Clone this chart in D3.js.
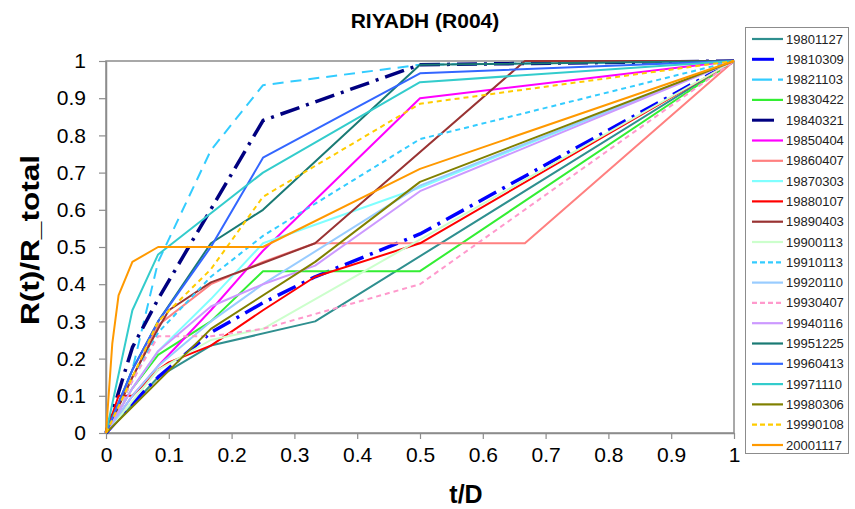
<!DOCTYPE html>
<html><head><meta charset="utf-8">
<script src="https://cdn.jsdelivr.net/npm/d3@7"></script>
<style>body{margin:0;background:#fff}svg{font-family:"Liberation Sans",Arial,sans-serif}</style>
</head><body><svg id="c" width="855" height="509"></svg>
<script>
const title = "RIYADH (R004)";
const xTicks = [0,0.1,0.2,0.3,0.4,0.5,0.6,0.7,0.8,0.9,1];
const yTicks = [0,0.1,0.2,0.3,0.4,0.5,0.6,0.7,0.8,0.9,1];
const seriesNames = ["19801127","19810309","19821103","19830422","19840321","19850404","19860407","19870303","19880107","19890403","19900113","19910113","19920110","19930407","19940116","19951225","19960413","19971110","19980306","19990108","20001117"];

const x_19801127 = [0, 0.083, 0.167, 0.333, 1];
const y_19801127 = [0, 0.15, 0.235, 0.30, 1];
const x_19810309 = [0, 0.042, 0.083, 0.167, 0.25, 0.333, 0.5, 1];
const y_19810309 = [0, 0.08, 0.15, 0.27, 0.35, 0.42, 0.535, 1];
const x_19821103 = [0, 0.042, 0.083, 0.167, 0.25, 0.5, 1];
const y_19821103 = [0, 0.17, 0.46, 0.76, 0.935, 0.99, 1];
const x_19830422 = [0, 0.042, 0.083, 0.167, 0.25, 0.5, 1];
const y_19830422 = [0, 0.12, 0.21, 0.30, 0.435, 0.435, 1];
const x_19840321 = [0, 0.042, 0.083, 0.25, 0.333, 0.5, 1];
const y_19840321 = [0, 0.23, 0.36, 0.84, 0.89, 0.99, 1];
const x_19850404 = [0, 0.042, 0.083, 0.167, 0.25, 0.5, 1];
const y_19850404 = [0, 0.10, 0.18, 0.33, 0.49, 0.90, 1];
const x_19860407 = [0, 0.042, 0.083, 0.167, 0.25, 0.333, 0.667, 1];
const y_19860407 = [0, 0.15, 0.29, 0.40, 0.46, 0.51, 0.51, 1];
const x_19870303 = [0, 0.042, 0.083, 0.167, 0.25, 0.5, 1];
const y_19870303 = [0, 0.12, 0.22, 0.36, 0.51, 0.66, 1];
const x_19880107 = [0, 0.02, 0.042, 0.083, 0.1, 0.167, 0.25, 0.333, 0.5, 1];
const y_19880107 = [0, 0.10, 0.10, 0.17, 0.19, 0.235, 0.33, 0.42, 0.51, 1];
const x_19890403 = [0, 0.042, 0.083, 0.1, 0.167, 0.25, 0.333, 0.667, 1];
const y_19890403 = [0, 0.15, 0.28, 0.33, 0.405, 0.457, 0.51, 1, 1];
const x_19900113 = [0, 0.083, 0.167, 0.25, 1];
const y_19900113 = [0, 0.17, 0.25, 0.28, 1];
const x_19910113 = [0, 0.042, 0.083, 0.167, 0.25, 0.5, 1];
const y_19910113 = [0, 0.14, 0.27, 0.42, 0.53, 0.79, 1];
const x_19920110 = [0, 0.042, 0.083, 0.167, 0.25, 0.5, 1];
const y_19920110 = [0, 0.10, 0.18, 0.30, 0.40, 0.665, 1];
const x_19930407 = [0, 0.042, 0.083, 0.167, 0.25, 0.5, 1];
const y_19930407 = [0, 0.14, 0.26, 0.26, 0.28, 0.40, 1];
const x_19940116 = [0, 0.042, 0.083, 0.167, 0.25, 0.333, 0.5, 1];
const y_19940116 = [0, 0.12, 0.22, 0.34, 0.40, 0.45, 0.65, 1];
const x_19951225 = [0, 0.042, 0.083, 0.167, 0.25, 0.5, 1];
const y_19951225 = [0, 0.17, 0.30, 0.51, 0.60, 0.99, 1];
const x_19960413 = [0, 0.042, 0.083, 0.167, 0.25, 0.5, 1];
const y_19960413 = [0, 0.17, 0.30, 0.50, 0.74, 0.967, 1];
const x_19971110 = [0, 0.042, 0.083, 0.25, 0.5, 1];
const y_19971110 = [0, 0.33, 0.48, 0.70, 0.943, 1];
const x_19980306 = [0, 0.167, 0.333, 0.5, 1];
const y_19980306 = [0, 0.28, 0.46, 0.675, 1];
const x_19990108 = [0, 0.042, 0.083, 0.167, 0.25, 0.5, 1];
const y_19990108 = [0, 0.15, 0.30, 0.44, 0.635, 0.885, 1];
const x_20001117 = [0, 0.01, 0.02, 0.042, 0.083, 0.25, 0.5, 1];
const y_20001117 = [0, 0.24, 0.37, 0.46, 0.50, 0.50, 0.71, 1];

const xs = [x_19801127,x_19810309,x_19821103,x_19830422,x_19840321,x_19850404,x_19860407,x_19870303,x_19880107,x_19890403,x_19900113,x_19910113,x_19920110,x_19930407,x_19940116,x_19951225,x_19960413,x_19971110,x_19980306,x_19990108,x_20001117];
const ys = [y_19801127,y_19810309,y_19821103,y_19830422,y_19840321,y_19850404,y_19860407,y_19870303,y_19880107,y_19890403,y_19900113,y_19910113,y_19920110,y_19930407,y_19940116,y_19951225,y_19960413,y_19971110,y_19980306,y_19990108,y_20001117];

const colors = ["#2f8f8f","#0000ff","#33ccff","#33ee33","#000080","#ff00ff","#ff8080","#80ffff","#ff0000","#993333","#ccffcc","#33ccff","#99ccff","#ff99cc","#cc99ff","#1a7a74","#3366ff","#33cccc","#808000","#ffcc00","#ff9900"];
const widths = [2,3.5,2,2,3.5,2,2,2,2,2,2,2,2,2,2,2,2,2,2,2,2];
const dashes = [null,"20,7,3,7","11,7",null,"20,7,3,7",null,null,null,null,null,null,"5,4",null,"5,4",null,null,null,null,null,"5,4",null];

const svg = d3.select("#c");
const L = 106, R = 734, T = 61, B = 433;
const x = d3.scaleLinear().domain([0,1]).range([L,R]);
const y = d3.scaleLinear().domain([0,1]).range([B,T]);
const axisColor = "#8c8c8c";

svg.append("rect").attr("x",L).attr("y",T).attr("width",R-L).attr("height",B-T)
  .attr("fill","none").attr("stroke",axisColor).attr("stroke-width",1.5);

const gx = svg.append("g").attr("transform",`translate(0,${B})`)
  .call(d3.axisBottom(x).tickValues(xTicks).tickFormat(d3.format("~g")).tickSize(6).tickSizeOuter(0).tickPadding(8));
const gy = svg.append("g").attr("transform",`translate(${L},0)`)
  .call(d3.axisLeft(y).tickValues(yTicks).tickFormat(d3.format("~g")).tickSize(7).tickSizeOuter(0).tickPadding(13));
[gx,gy].forEach(g=>{
  g.select(".domain").attr("stroke",axisColor).attr("stroke-width",1.5);
  g.selectAll(".tick line").attr("stroke",axisColor).attr("stroke-width",1.2);
  g.selectAll(".tick text").attr("fill","#000").style("font-size","21px").style("font-family","'Liberation Sans',Arial,sans-serif");
});

const line = d3.line().x(d=>x(d[0])).y(d=>y(d[1]));
const plot = svg.append("g");
seriesNames.forEach((n,i)=>{
  const pts = xs[i].map((v,j)=>[v, ys[i][j]]);
  const p = plot.append("path").datum(pts).attr("d",line).attr("fill","none")
    .attr("stroke",colors[i]).attr("stroke-width",widths[i]).attr("stroke-linejoin","round");
  if (dashes[i]) p.attr("stroke-dasharray",dashes[i]);
});

svg.append("text").attr("x",425).attr("y",28).attr("text-anchor","middle")
  .style("font-weight","bold").style("font-size","21px").text(title);
svg.append("text").attr("x",466).attr("y",503).attr("text-anchor","middle")
  .style("font-weight","bold").style("font-size","25px").text("t/D");
svg.append("text").attr("transform","translate(39,240) rotate(-90)").attr("text-anchor","middle")
  .style("font-weight","bold").style("font-size","26px")
  .attr("textLength",170).attr("lengthAdjust","spacingAndGlyphs").text("R(t)/R_total");

const lg = svg.append("g");
lg.append("rect").attr("x",745.5).attr("y",27.5).attr("width",103).attr("height",426)
  .attr("fill","#fff").attr("stroke","#8c8c8c").attr("stroke-width",1);
seriesNames.forEach((n,i)=>{
  const cy = 39 + i*20.3;
  const l = lg.append("line").attr("x1",752).attr("x2",783).attr("y1",cy).attr("y2",cy)
    .attr("stroke",colors[i]).attr("stroke-width",widths[i]>3?3:2.2);
  if (dashes[i]) l.attr("stroke-dasharray", dashes[i].startsWith("20")?"22,100":(dashes[i]=="11,7"?"20,6":"5,3"));
  lg.append("text").attr("x",786).attr("y",cy+4.5).style("font-size","13px").attr("fill","#222").text(n);
});
</script></body></html>
